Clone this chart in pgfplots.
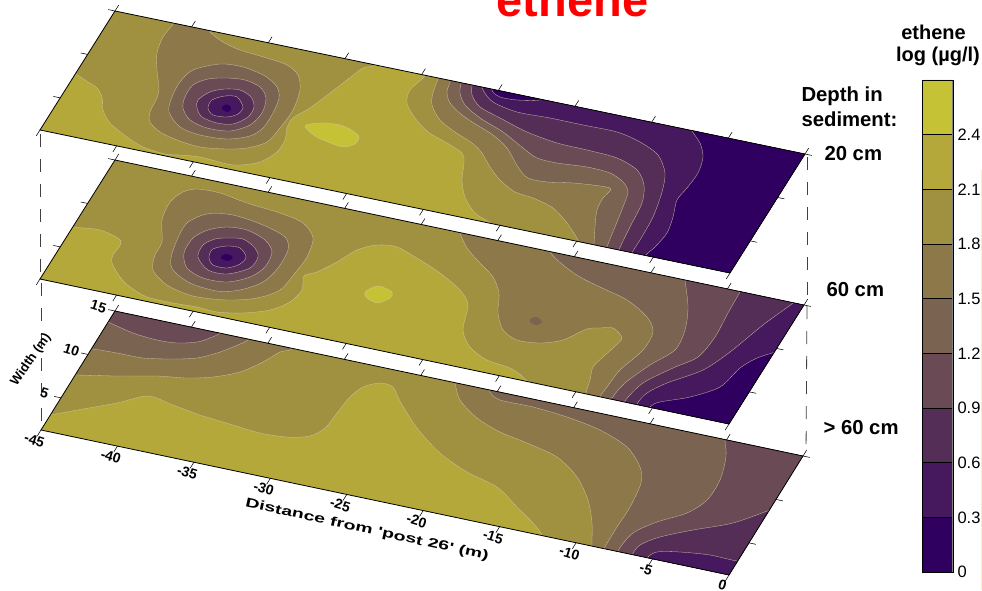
\documentclass[border=0pt]{standalone}
\usepackage{pgfplots}
\pgfplotsset{compat=1.18}
\usepackage{graphicx}
\usepackage{fontspec}
\setmainfont{Liberation Sans}
\definecolor{c0}{HTML}{300060}
\definecolor{c1}{HTML}{46195E}
\definecolor{c2}{HTML}{552E58}
\definecolor{c3}{HTML}{6A4A55}
\definecolor{c4}{HTML}{7A6350}
\definecolor{c5}{HTML}{8C7848}
\definecolor{c6}{HTML}{A09140}
\definecolor{c7}{HTML}{B4A83B}
\definecolor{c8}{HTML}{C5C235}
\definecolor{cline}{HTML}{CFC8A6}
% contour vertices are read in picture pixels and mapped to the plate's (distance, width)
\newcommand{\setplate}[8]{%
 \def\Pu{#1}\def\Pv{#2}\def\Pax{#3}\def\Pay{#4}\def\Pbx{#5}\def\Pby{#6}%
 \pgfmathsetmacro{\Pdet}{#3*#6-#4*#5}}
\pgfplotsset{
 table/pix/.style={header=false,row sep=\\,
  x expr={-45+((\thisrowno{0}-\Pu)*\Pby-(\thisrowno{1}-\Pv)*\Pbx)/\Pdet},
  y expr={1.3+(\Pax*(\thisrowno{1}-\Pv)-\Pay*(\thisrowno{0}-\Pu))/\Pdet}},
 plate/.style={disabledatascaling,xmin=-45,xmax=0,ymin=1.3,ymax=15,
  xtick={-45,-40,...,0},ytick={5,10,15},tick align=outside,axis on top,
  major tick length=7pt,tick style={black,line width=.55pt},
  axis line style={black,line width=.8pt},clip=true,
  xticklabels={},yticklabels={}},
}
% open region: the contour runs out of the plate and closes outside it
\newcommand{\reg}[2]{\addplot[fill=#1,draw=cline,line width=.3pt,smooth] table[pix]{#2};}
% closed region: a contour ring
\newcommand{\ring}[2]{\addplot[fill=#1,draw=cline,line width=.3pt,smooth cycle] table[pix]{#2};}
\newcommand{\blob}[2]{\addplot[fill=#1,draw=none,smooth cycle] table[pix]{#2};}
\begin{document}
\begin{tikzpicture}
\path[use as bounding box,clip] (0,0) rectangle (982pt,590pt);
% overlay in picture pixels: dashes and texts
\begin{axis}[at={(0pt,0pt)},anchor=south west,scale only axis,width=982pt,height=590pt,
 xmin=0,xmax=982,ymin=0,ymax=590,y dir=reverse,hide axis,clip=false]
\addplot[black!75,line width=.8pt,dash pattern=on 13pt off 12pt] coordinates {(40,134)(40,280)};
\addplot[black!75,line width=.8pt,dash pattern=on 13pt off 12pt] coordinates {(41,283)(41,430)};
\addplot[black!75,line width=.8pt,dash pattern=on 13pt off 12pt] coordinates {(807,157)(807,303)};
\addplot[black!75,line width=.8pt,dash pattern=on 13pt off 12pt] coordinates {(807,306)(806,454)};
\addplot[color={rgb,255:red,246;green,238;blue,208},line width=.8pt] coordinates {(981.5,170)(981.5,590)};
\node[text=red,anchor=base,font=\bfseries\fontsize{47}{47}\selectfont] at (axis cs:572.5,16.5) {ethene};
\node[font=\bfseries\fontsize{20}{20}\selectfont] at (axis cs:933.5,32) {ethene};
\node[font=\bfseries\fontsize{20}{20}\selectfont] at (axis cs:938,56) {log (µg/l)};
\node[anchor=west,font=\bfseries\fontsize{20.3}{20}\selectfont] at (axis cs:798,96) {Depth in};
\node[anchor=west,font=\bfseries\fontsize{20.3}{20}\selectfont] at (axis cs:798,119) {sediment:};
\node[anchor=west,font=\bfseries\fontsize{20.3}{20}\selectfont] at (axis cs:821,154) {20 cm};
\node[anchor=west,font=\bfseries\fontsize{20.3}{20}\selectfont] at (axis cs:823,290) {60 cm};
\node[anchor=west,font=\bfseries\fontsize{20.3}{20}\selectfont] at (axis cs:820,428) {> 60 cm};
\node[rotate=-12.4,font=\bfseries\fontsize{13}{13}\selectfont] at (axis cs:367,530) {\scalebox{1.5}[1]{Distance from \textquotesingle post 26\textquotesingle{} (m)}};
\node[rotate=55,font=\bfseries\fontsize{13}{13}\selectfont] at (axis cs:31,360) {Width (m)};
\end{axis}
% colour scale
\begin{axis}[at={(922.5pt,18pt)},anchor=south west,scale only axis,width=30.5pt,height=492pt,
 xmin=0,xmax=1,ymin=0,ymax=2.7,xtick=\empty,ytick={0,0.3,0.6,0.9,1.2,1.5,1.8,2.1,2.4},
 yticklabel pos=right,major tick length=0pt,axis on top,clip=false,
 axis line style={black,line width=.7pt},
 y tick label style={/pgf/number format/fixed,/pgf/number format/assume math mode=true,
  anchor=west,xshift=1pt,font=\fontsize{16.5}{16.5}\selectfont}]
\addplot[fill=c0,draw=black,line width=.7pt] coordinates {(0,0)(1,0)(1,.3)(0,.3)(0,0)};
\addplot[fill=c1,draw=black,line width=.7pt] coordinates {(0,.3)(1,.3)(1,.6)(0,.6)(0,.3)};
\addplot[fill=c2,draw=black,line width=.7pt] coordinates {(0,.6)(1,.6)(1,.9)(0,.9)(0,.6)};
\addplot[fill=c3,draw=black,line width=.7pt] coordinates {(0,.9)(1,.9)(1,1.2)(0,1.2)(0,.9)};
\addplot[fill=c4,draw=black,line width=.7pt] coordinates {(0,1.2)(1,1.2)(1,1.5)(0,1.5)(0,1.2)};
\addplot[fill=c5,draw=black,line width=.7pt] coordinates {(0,1.5)(1,1.5)(1,1.8)(0,1.8)(0,1.5)};
\addplot[fill=c6,draw=black,line width=.7pt] coordinates {(0,1.8)(1,1.8)(1,2.1)(0,2.1)(0,1.8)};
\addplot[fill=c7,draw=black,line width=.7pt] coordinates {(0,2.1)(1,2.1)(1,2.4)(0,2.4)(0,2.1)};
\addplot[fill=c8,draw=black,line width=.7pt] coordinates {(0,2.4)(1,2.4)(1,2.7)(0,2.7)(0,2.4)};
\addplot[gray,line width=1.2pt] coordinates {(1,0)(1,2.7)};
\end{axis}
%%%%%% plate 3, > 60 cm
\setplate{41}{430}{15.289}{3.222}{5.401}{-8.686}{0}{0}
\begin{axis}[plate,at={(41pt,15pt)},anchor=south west,
 x={(15.289pt,-3.222pt)},y={(5.401pt,8.686pt)},
 xticklabels={-45,-40,-35,-30,-25,-20,-15,-10,-5,0},
 yticklabels={5,10,15},
 x tick label style={rotate=-17,anchor=center,yshift=-5pt,xshift=-1.5pt,font=\bfseries\fontsize{14}{14}\selectfont},
 y tick label style={rotate=-17,anchor=center,xshift=-10pt,font=\bfseries\fontsize{14}{14}\selectfont}]
\reg{c7}{20 400\\ 20 600\\ 900 700\\ 900 300\\ 100 280\\}
\reg{c6}{35 418\\ 50 415\\ 83 409\\ 117 403\\ 148 396\\ 173 405\\ 200 415\\ 233 425\\ 260 433\\ 287 437\\ 310 436\\ 325 428\\ 337 413\\ 350 397\\ 363 387\\ 380 383\\ 393 387\\ 400 401\\ 417 428\\ 440 453\\ 467 472\\ 497 487\\ 517 507\\ 533 523\\ 542 535\\ 548 552\\ 950 640\\ 950 300\\ 400 270\\ 100 280\\ 30 340\\}
\reg{c5}{60 375\\ 76 375\\ 117 376\\ 157 376\\ 187 378\\ 213 377\\ 240 372\\ 263 362\\ 280 352\\ 292 349\\ 305 335\\ 200 290\\ 100 290\\ 60 340\\}
\reg{c4}{80 349\\ 93 349\\ 117 353\\ 143 358\\ 173 359\\ 197 358\\ 217 353\\ 233 347\\ 248 340\\ 258 330\\ 180 295\\ 100 295\\ 80 330\\}
\reg{c3}{98 318\\ 108 322\\ 133 333\\ 157 340\\ 177 343\\ 197 342\\ 210 338\\ 220 333\\ 230 322\\ 170 295\\ 110 295\\ 95 310\\}
\reg{c5}{452 370\\ 455 383\\ 460 400\\ 477 418\\ 500 432\\ 527 443\\ 557 457\\ 577 477\\ 588 500\\ 592 523\\ 592 547\\ 594 562\\ 950 650\\ 950 300\\}
\reg{c4}{487 380\\ 490 392\\ 500 400\\ 533 407\\ 567 417\\ 600 430\\ 627 447\\ 640 467\\ 641 483\\ 630 507\\ 617 527\\ 604 549\\ 600 565\\ 950 650\\ 950 300\\}
\reg{c3}{725 435\\ 725 440\\ 726 457\\ 720 480\\ 707 500\\ 687 513\\ 657 522\\ 633 533\\ 618 551\\ 616 565\\ 740 610\\ 900 560\\ 900 420\\}
\reg{c2}{785 505\\ 770 510\\ 733 523\\ 693 530\\ 660 537\\ 640 545\\ 632 555\\ 628 568\\ 730 600\\ 790 560\\}
\reg{c1}{752 558\\ 738 561\\ 710 555\\ 680 552\\ 657 552\\ 647 558\\ 644 570\\ 730 600\\ 770 570\\}
\end{axis}
%%%%%% plate 2, 60 cm
\setplate{40}{279}{15.311}{3.222}{5.474}{-8.686}{0}{0}
\begin{axis}[plate,at={(40pt,166pt)},anchor=south west,
 x={(15.311pt,-3.222pt)},y={(5.474pt,8.686pt)}]
\reg{c6}{20 260\\ 20 320\\ 900 500\\ 900 200\\ 100 130\\}
\reg{c7}{60 222\\ 74 227\\ 100 230\\ 121 241\\ 113 255\\ 112 263\\ 120 277\\ 130 287\\ 147 297\\ 173 303\\ 197 307\\ 217 312\\ 243 313\\ 270 310\\ 290 302\\ 302 290\\ 304 276\\ 317 272\\ 337 262\\ 357 250\\ 377 245\\ 397 247\\ 420 260\\ 440 273\\ 460 290\\ 468 305\\ 463 330\\ 470 347\\ 487 360\\ 510 368\\ 525 379\\ 532 395\\ 300 350\\ 30 310\\ 10 250\\}
\ring{c8}{378 286\\ 392 292\\ 390 298\\ 378 303\\ 367 298\\ 365 292\\}
\ring{c5}{197 189\\ 220 193\\ 247 203\\ 280 213\\ 303 223\\ 313 238\\ 307 257\\ 295 273\\ 280 290\\ 257 298\\ 227 300\\ 193 296\\ 167 285\\ 153 270\\ 155 255\\ 162 242\\ 162 220\\ 170 202\\ 183 192\\}
\ring{c4}{207 214\\ 233 215\\ 263 225\\ 285 237\\ 288 250\\ 278 268\\ 263 282\\ 240 290\\ 217 291\\ 190 283\\ 173 270\\ 171 258\\ 177 240\\ 187 223\\}
\ring{c3}{227 227\\ 247 230\\ 265 240\\ 272 252\\ 265 267\\ 250 277\\ 227 282\\ 203 278\\ 187 268\\ 184 253\\ 193 238\\ 208 230\\}
\ring{c2}{227 238\\ 243 239\\ 255 248\\ 258 257\\ 250 268\\ 227 274\\ 208 270\\ 198 257\\ 203 245\\ 215 239\\}
\ring{c1}{227 246\\ 240 248\\ 246 257\\ 240 264\\ 227 268\\ 213 265\\ 209 257\\ 213 249\\}
\blob{c0}{227 254\\ 232 256\\ 232 259\\ 227 261\\ 221 258\\ 223 255\\}
\reg{c5}{457 220\\ 460 233\\ 467 248\\ 480 263\\ 493 277\\ 499 293\\ 498 313\\ 503 330\\ 517 340\\ 540 343\\ 563 340\\ 587 329\\ 600 328\\ 613 328\\ 622 338\\ 613 348\\ 603 357\\ 593 367\\ 590 380\\ 586 393\\ 584 410\\ 950 490\\ 950 100\\}
\blob{c4}{530 319\\ 537 317\\ 542 322\\ 537 325\\ 531 323\\}
\reg{c4}{547 240\\ 550 252\\ 563 265\\ 580 277\\ 600 287\\ 627 300\\ 647 317\\ 653 332\\ 643 350\\ 620 370\\ 607 387\\ 600 397\\ 597 412\\ 950 490\\ 950 100\\}
\reg{c3}{683 268\\ 685 280\\ 688 307\\ 685 330\\ 675 350\\ 650 365\\ 625 383\\ 613 397\\ 608 412\\ 950 500\\ 950 100\\}
\reg{c2}{746 280\\ 740 292\\ 728 313\\ 715 337\\ 698 357\\ 673 368\\ 643 383\\ 625 401\\ 620 416\\ 950 500\\ 950 100\\}
\reg{c1}{800 295\\ 793 303\\ 763 325\\ 730 352\\ 703 370\\ 667 383\\ 647 393\\ 637 404\\ 632 418\\ 780 470\\ 900 350\\}
\reg{c0}{790 345\\ 775 352\\ 757 358\\ 740 368\\ 720 387\\ 690 397\\ 660 402\\ 650 407\\ 646 420\\ 730 460\\ 800 400\\}
\end{axis}
%%%%%% plate 1, 20 cm
\setplate{40}{130}{15.333}{3.178}{5.474}{-8.686}{0}{0}
\begin{axis}[plate,at={(40pt,317pt)},anchor=south west,
 x={(15.333pt,-3.178pt)},y={(5.474pt,8.686pt)}]
\reg{c7}{20 110\\ 20 170\\ 900 350\\ 900 50\\ 100 -20\\}
\reg{c6}{60 65\\ 76 74\\ 85 80\\ 97 88\\ 102 97\\ 103 110\\ 110 123\\ 127 137\\ 143 147\\ 165 154\\ 180 155\\ 200 157\\ 227 164\\ 240 165\\ 260 162\\ 277 152\\ 285 140\\ 287 128\\ 293 118\\ 310 108\\ 330 93\\ 347 80\\ 363 68\\ 373 66\\ 378 58\\ 300 20\\ 110 -5\\ 40 40\\}
\ring{c8}{305 126\\ 320 123\\ 340 125\\ 353 131\\ 359 137\\ 355 144\\ 343 147\\ 328 142\\ 315 136\\}
\reg{c5}{178 15\\ 174 23\\ 163 37\\ 157 53\\ 157 70\\ 159 88\\ 157 98\\ 150 112\\ 150 122\\ 160 132\\ 177 140\\ 200 147\\ 227 149\\ 247 148\\ 267 142\\ 280 128\\ 293 110\\ 300 90\\ 298 75\\ 287 65\\ 267 58\\ 240 50\\ 223 42\\ 210 32\\ 200 20\\}
\ring{c4}{220 64\\ 243 67\\ 265 76\\ 277 87\\ 279 98\\ 273 113\\ 263 128\\ 250 136\\ 227 139\\ 200 135\\ 180 127\\ 169 112\\ 172 97\\ 180 82\\ 193 70\\}
\ring{c3}{227 78\\ 245 80\\ 260 87\\ 266 98\\ 262 113\\ 250 125\\ 230 131\\ 207 128\\ 190 120\\ 183 108\\ 185 97\\ 193 85\\ 208 79\\}
\ring{c2}{225 89\\ 240 90\\ 251 97\\ 254 107\\ 248 117\\ 233 124\\ 217 123\\ 202 117\\ 197 108\\ 198 100\\ 210 92\\}
\ring{c1}{225 96\\ 237 97\\ 243 107\\ 238 114\\ 227 117\\ 213 115\\ 208 108\\ 212 100\\}
\blob{c0}{227 104.5\\ 231 107\\ 231 110\\ 227 112\\ 222 109\\ 223 106\\}
\reg{c6}{428 65\\ 425 76\\ 410 90\\ 407 103\\ 415 118\\ 428 132\\ 447 143\\ 462 153\\ 464 163\\ 462 180\\ 465 197\\ 475 213\\ 492 224\\ 510 240\\ 950 330\\ 950 0\\}
\reg{c5}{441 68\\ 438 79\\ 433 93\\ 432 105\\ 440 120\\ 455 132\\ 472 143\\ 482 153\\ 490 167\\ 500 180\\ 515 192\\ 533 198\\ 553 208\\ 567 223\\ 579 242\\ 584 258\\ 950 340\\ 950 0\\}
\reg{c4}{452 72\\ 450 82\\ 447 92\\ 450 103\\ 462 115\\ 477 125\\ 493 135\\ 507 148\\ 518 167\\ 528 178\\ 547 182\\ 573 183\\ 600 186\\ 611 189\\ 603 198\\ 597 210\\ 595 227\\ 594 245\\ 593 262\\ 950 340\\ 950 0\\}
\reg{c3}{462 72\\ 461 83\\ 460 93\\ 465 105\\ 480 118\\ 503 132\\ 523 148\\ 537 158\\ 557 163\\ 587 167\\ 610 173\\ 623 182\\ 628 192\\ 623 207\\ 615 227\\ 607 247\\ 603 264\\ 950 340\\ 950 0\\}
\reg{c2}{473 75\\ 472 86\\ 472 95\\ 480 107\\ 500 118\\ 527 132\\ 557 143\\ 587 150\\ 617 158\\ 637 170\\ 644 185\\ 642 203\\ 630 227\\ 619 250\\ 615 266\\ 950 340\\ 950 0\\}
\reg{c1}{481 80\\ 483 90\\ 493 102\\ 517 112\\ 550 118\\ 583 125\\ 617 132\\ 640 142\\ 658 155\\ 665 173\\ 662 192\\ 653 217\\ 640 240\\ 632 253\\ 628 268\\ 950 340\\ 950 0\\}
\reg{c0}{491 85\\ 493 92\\ 500 97\\ 517 100\\ 540 100\\ 550 95\\}
\reg{c0}{688 120\\ 692 131\\ 700 143\\ 703 157\\ 698 173\\ 687 188\\ 677 200\\ 673 217\\ 667 233\\ 655 247\\ 645 256\\ 638 270\\ 950 340\\ 950 0\\}
\end{axis}
\end{tikzpicture}
\end{document}
